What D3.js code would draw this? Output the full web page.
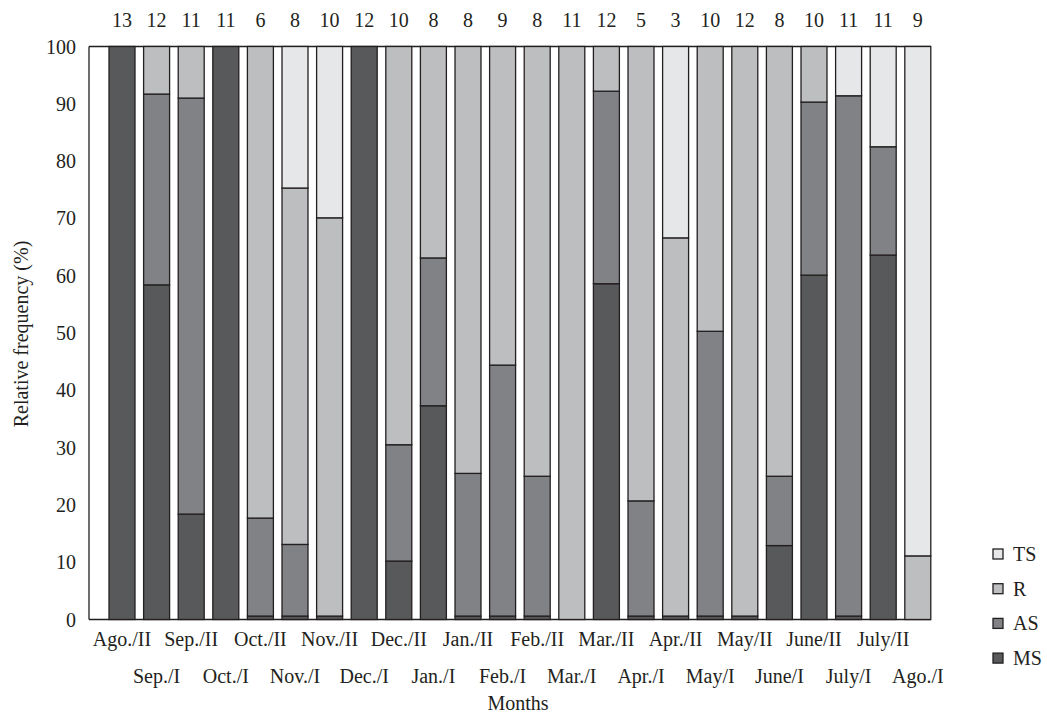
<!DOCTYPE html>
<html>
<head>
<meta charset="utf-8">
<script src="https://cdn.jsdelivr.net/npm/d3@7"></script>
<style>
  html, body { margin: 0; padding: 0; background: #fff; }
  svg { display: block; font-family: "Liberation Serif", "DejaVu Serif", serif; }
</style>
</head>
<body>
<svg id="chart" width="1047" height="715"></svg>
<script>
const categories = ["Ago./II","Sep./I","Sep./II","Oct./I","Oct./II","Nov./I","Nov./II","Dec./I","Dec./II","Jan./I","Jan./II","Feb./I","Feb./II","Mar./I","Mar./II","Apr./I","Apr./II","May/I","May/II","June/I","June/II","July/I","July/II","Ago./I"];
const sampleSizes = [13,12,11,11,6,8,10,12,10,8,8,9,8,11,12,5,3,10,12,8,10,11,11,9];
const MS = [100,58.4,18.4,100,0.6,0.6,0.6,100,10.2,37.3,0.6,0.6,0.6,0,58.6,0.6,0.6,0.6,0.6,12.9,60.1,0.6,63.6,0];
const AS = [0,33.3,72.6,0,17.1,12.5,0,0,20.3,25.8,24.9,43.8,24.4,0,33.6,20.1,0,49.7,0,12.1,30.2,90.8,18.9,0];
const R  = [0,8.3,9.0,0,82.3,62.2,69.5,0,69.5,36.9,74.5,55.6,75.0,100,7.8,79.3,66.0,49.7,99.4,75.0,9.7,0,0,11.1];
const TS = [0,0,0,0,0,24.7,29.9,0,0,0,0,0,0,0,0,0,33.4,0,0,0,0,8.6,17.5,88.9];
const seriesNames = ["MS","AS","R","TS"];
const legendOrder = ["TS","R","AS","MS"];
const yTicks = [0,10,20,30,40,50,60,70,80,90,100];

const colors = { MS: "#58595b", AS: "#808285", R: "#bcbec0", TS: "#e6e7e8" };
const ink = "#231f20";
const fs = 20;

const svg = d3.select("#chart");
const plotLeft = 89, plotTop = 46.5, plotBottom = 619.5;

const x = d3.scaleBand().domain(categories).range([104.7, 935.1]).paddingInner(0.249).paddingOuter(0.1245);
const y = d3.scaleLinear().domain([0, 100]).range([plotBottom, plotTop]);

const rows = categories.map((c, i) => ({ cat: c, MS: MS[i], AS: AS[i], R: R[i], TS: TS[i] }));
const stacked = d3.stack().keys(seriesNames)(rows);

const plotRight = x(categories[categories.length - 1]) + x.bandwidth();

// frame
svg.append("line").attr("x1", plotLeft).attr("x2", plotRight).attr("y1", plotTop).attr("y2", plotTop)
  .attr("stroke", ink).attr("stroke-width", 1.3);
svg.append("line").attr("x1", plotLeft).attr("x2", plotRight).attr("y1", plotBottom).attr("y2", plotBottom)
  .attr("stroke", ink).attr("stroke-width", 1.3);
svg.append("line").attr("x1", plotLeft).attr("x2", plotLeft).attr("y1", plotTop).attr("y2", plotBottom)
  .attr("stroke", ink).attr("stroke-width", 1.3);

// bars
stacked.forEach(layer => {
  svg.append("g").selectAll("rect")
    .data(layer.filter(d => d[1] - d[0] > 0))
    .join("rect")
    .attr("x", d => x(d.data.cat))
    .attr("width", x.bandwidth())
    .attr("y", d => y(d[1]))
    .attr("height", d => y(d[0]) - y(d[1]))
    .attr("fill", colors[layer.key])
    .attr("stroke", ink)
    .attr("stroke-width", 1.3);
});

// y tick labels
svg.append("g").selectAll("text").data(yTicks).join("text")
  .attr("x", 76).attr("y", d => y(d)).attr("dy", "0.35em")
  .attr("text-anchor", "end").attr("font-size", fs).attr("fill", ink)
  .text(d => d);

// sample sizes on top
svg.append("g").selectAll("text").data(categories).join("text")
  .attr("x", d => x(d) + x.bandwidth() / 2).attr("y", 27)
  .attr("text-anchor", "middle").attr("font-size", fs).attr("fill", ink)
  .text((d, i) => sampleSizes[i]);

// x labels, alternating rows
svg.append("g").selectAll("text").data(categories).join("text")
  .attr("x", d => x(d) + x.bandwidth() / 2)
  .attr("y", (d, i) => i % 2 === 0 ? 646 : 683)
  .attr("text-anchor", "middle").attr("font-size", fs).attr("fill", ink)
  .text(d => d);

// axis titles
svg.append("text").attr("x", 518).attr("y", 710).attr("text-anchor", "middle")
  .attr("font-size", fs).attr("fill", ink).text("Months");
svg.append("text").attr("transform", "translate(28,334) rotate(-90)").attr("text-anchor", "middle")
  .attr("font-size", fs).attr("fill", ink).text("Relative frequency (%)");

// legend
const lg = svg.append("g").selectAll("g").data(legendOrder).join("g")
  .attr("transform", (d, i) => `translate(993,${554 + i * 34.7})`);
lg.append("rect").attr("x", 0).attr("y", -5).attr("width", 10).attr("height", 10)
  .attr("fill", d => colors[d]).attr("stroke", ink).attr("stroke-width", 1.3);
lg.append("text").attr("x", 20).attr("y", 0).attr("dy", "0.35em")
  .attr("font-size", fs).attr("fill", ink).text(d => d);
</script>
</body>
</html>
